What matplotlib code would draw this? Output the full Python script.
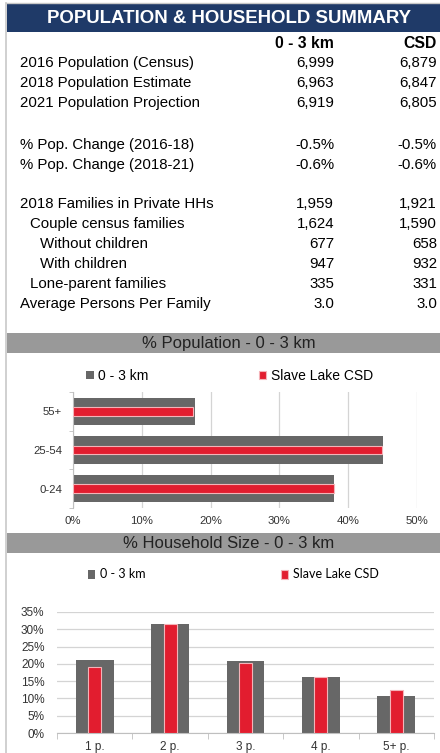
import matplotlib
matplotlib.use("Agg")
import matplotlib.pyplot as plt
from matplotlib.patches import Rectangle
from matplotlib.ticker import FixedLocator, PercentFormatter

plt.rcParams['font.family'] = ['Liberation Sans', 'DejaVu Sans']

# ---------------- data ----------------
title = "POPULATION & HOUSEHOLD SUMMARY"
col_headers = ["0 - 3 km", "CSD"]

pop_labels = ["2016 Population (Census)", "2018 Population Estimate", "2021 Population Projection"]
pop_3km = [6999, 6963, 6919]
pop_csd = [6879, 6847, 6805]

chg_labels = ["% Pop. Change (2016-18)", "% Pop. Change (2018-21)"]
chg_3km = [-0.5, -0.6]
chg_csd = [-0.5, -0.6]

fam_labels = ["2018 Families in Private HHs", "Couple census families", "Without children",
              "With children", "Lone-parent families"]
fam_3km = [1959, 1624, 677, 947, 335]
fam_csd = [1921, 1590, 658, 932, 331]

avg_label = "Average Persons Per Family"
avg_3km = 3.0
avg_csd = 3.0

series_names = ["0 - 3 km", "Slave Lake CSD"]

age_title = "% Population - 0 - 3 km"
age_groups = ["0-24", "25-54", "55+"]
age_3km = [38.0, 45.0, 17.7]
age_csd = [37.9, 44.9, 17.4]

hh_title = "% Household Size - 0 - 3 km"
hh_sizes = ["1 p.", "2 p.", "3 p.", "4 p.", "5+ p."]
hh_3km = [21.1, 31.6, 20.9, 16.3, 10.8]
hh_csd = [19.2, 31.6, 20.2, 16.3, 12.3]

# ---------------- style ----------------
W, H = 440, 753
NAVY = "#1F3A68"
BAND = "#999999"
GRAY = "#676767"
RED = "#E21D2F"
REDEDGE = "#F4B3B8"
GRID = "#D4D4D4"
AXC = "#BFBFBF"

fig = plt.figure(figsize=(W / 100, H / 100), dpi=100)
fig.patch.set_facecolor("white")

bg = fig.add_axes([0, 0, 1, 1])
bg.set_xlim(0, W)
bg.set_ylim(H, 0)
bg.axis("off")


def ax_px(l, t, r, b):
    return fig.add_axes([l / W, 1 - b / H, (r - l) / W, (b - t) / H])


# borders
bg.plot([6, 440], [3, 3], color="#C8C8C8", lw=1)
bg.plot([6, 6], [3, 753], color="#C8C8C8", lw=1.2)

# header
bg.add_patch(Rectangle((7, 4), 433, 28, facecolor=NAVY, edgecolor="none"))
bg.text(229, 18.5, title, color="white", fontsize=13.4, fontweight="bold",
        ha="center", va="center")

# table
TFS = 10.8
C1, C2 = 334, 437
OFF = 5.3  # baseline offset from visual center
bg.text(C1, 43 + OFF, col_headers[0], fontsize=11.3, fontweight="bold", ha="right", va="baseline")
bg.text(C2, 43 + OFF, col_headers[1], fontsize=11.3, fontweight="bold", ha="right", va="baseline")


def row(y, label, v1, v2, indent=0):
    bg.text(20 + indent, y + OFF, label, fontsize=TFS, ha="left", va="baseline")
    bg.text(C1, y + OFF, v1, fontsize=TFS, ha="right", va="baseline")
    bg.text(C2, y + OFF, v2, fontsize=TFS, ha="right", va="baseline")


pop_y = [62, 82, 102]
for y, lab, a, b in zip(pop_y, pop_labels, pop_3km, pop_csd):
    row(y, lab, f"{a:,}", f"{b:,}")

chg_y = [144, 164]
for y, lab, a, b in zip(chg_y, chg_labels, chg_3km, chg_csd):
    row(y, lab, f"{a:.1f}%", f"{b:.1f}%")

fam_y = [203, 223, 243, 263, 283]
fam_indent = [0, 10, 20, 20, 10]
for y, lab, a, b, ind in zip(fam_y, fam_labels, fam_3km, fam_csd, fam_indent):
    row(y, lab, f"{a:,}", f"{b:,}", ind)
row(303, avg_label, f"{avg_3km:.1f}", f"{avg_csd:.1f}")

# ---------------- band 1 + horizontal bar chart ----------------
bg.add_patch(Rectangle((7, 333), 433, 20, facecolor=BAND, edgecolor="none"))
bg.text(229, 343, age_title, fontsize=12, ha="center", va="center", color="#222222")

ax1 = ax_px(73, 392, 417, 508)
ax1.set_facecolor("none")
ypos = list(range(len(age_groups)))
b1 = ax1.barh(ypos, age_3km, height=0.7, color=GRAY, zorder=2, label=series_names[0])
b2 = ax1.barh(ypos, age_csd, height=0.22, color=RED, edgecolor=REDEDGE, linewidth=0.8,
              zorder=3, label=series_names[1])
ax1.set_xlim(0, 50)
ax1.set_ylim(-0.5, len(age_groups) - 0.5)
ax1.xaxis.set_major_locator(FixedLocator([0, 10, 20, 30, 40, 50]))
ax1.xaxis.set_major_formatter(PercentFormatter(decimals=0))
ax1.set_yticks(ypos)
ax1.set_yticklabels(age_groups)
ax1.yaxis.set_minor_locator(FixedLocator([-0.5, 0.5, 1.5, 2.5]))
ax1.tick_params(axis="y", which="major", length=0, pad=8, labelsize=8.2, labelcolor="#333333")
ax1.tick_params(axis="y", which="minor", length=3, color=AXC, direction="out")
ax1.tick_params(axis="x", length=0, pad=6, labelsize=8.2, labelcolor="#333333")
ax1.grid(axis="x", color=GRID, lw=0.9, zorder=0)
for s in ["top", "right", "bottom"]:
    ax1.spines[s].set_visible(False)
ax1.spines["left"].set_color(AXC)
ax1.legend(handles=[b1, b2], loc="center", bbox_to_anchor=(0.455, 1.14),
           ncol=2, frameon=False, fontsize=10, handlelength=0.55, handleheight=0.55,
           handletextpad=0.35, columnspacing=7.9, borderaxespad=0)

# ---------------- band 2 + vertical bar chart ----------------
bg.add_patch(Rectangle((7, 533), 433, 20, facecolor=BAND, edgecolor="none"))
bg.text(229, 543, hh_title, fontsize=12, ha="center", va="center", color="#222222")

ax2 = ax_px(57, 612, 434, 733)
ax2.set_facecolor("none")
xpos = list(range(len(hh_sizes)))
c1 = ax2.bar(xpos, hh_3km, width=0.5, color=GRAY, zorder=2, label=series_names[0])
c2 = ax2.bar(xpos, hh_csd, width=0.17, color=RED, edgecolor=REDEDGE, linewidth=0.8,
             zorder=3, label=series_names[1])
ax2.set_ylim(0, 35)
ax2.set_xlim(-0.5, len(hh_sizes) - 0.5)
ax2.yaxis.set_major_locator(FixedLocator([0, 5, 10, 15, 20, 25, 30, 35]))
ax2.yaxis.set_major_formatter(PercentFormatter(decimals=0))
ax2.set_xticks(xpos)
ax2.set_xticklabels(hh_sizes)
ax2.xaxis.set_minor_locator(FixedLocator([-0.5, 0.5, 1.5, 2.5, 3.5, 4.5]))
ax2.tick_params(axis="x", which="major", length=0, pad=6, labelsize=8.5, labelcolor="#333333")
ax2.tick_params(axis="x", which="minor", length=4, color=AXC, direction="out")
ax2.tick_params(axis="y", length=0, pad=9, labelsize=8.5, labelcolor="#333333")
ax2.grid(axis="y", color=GRID, lw=0.9, zorder=0)
for s in ["top", "right", "left"]:
    ax2.spines[s].set_visible(False)
ax2.spines["bottom"].set_color(AXC)
ax2.legend(handles=[c1, c2], loc="center", bbox_to_anchor=(0.468, 1.31),
           ncol=2, frameon=False, prop={"family": ["Lato", "DejaVu Sans"], "size": 9},
           handlelength=0.6, handleheight=0.75, handletextpad=0.4, columnspacing=10.8,
           borderaxespad=0)

fig.savefig("out.png", dpi=100, facecolor="white")
